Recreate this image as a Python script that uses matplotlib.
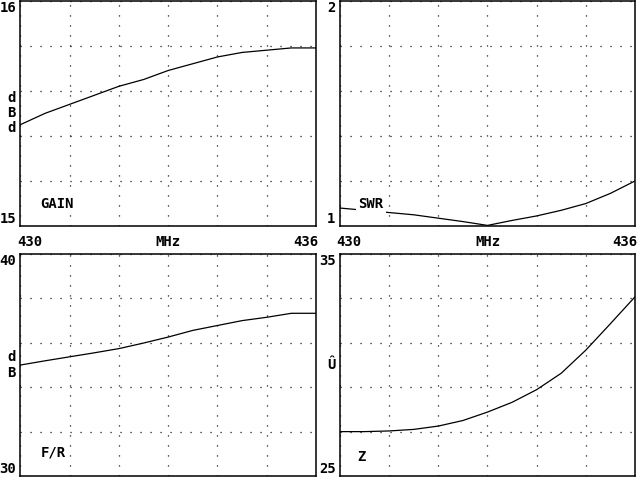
import matplotlib
matplotlib.use('Agg')
import matplotlib.pyplot as plt

plt.rcParams['lines.scale_dashes'] = False
plt.rcParams['font.family'] = ['DejaVu Sans Mono']
plt.rcParams['font.weight'] = 'bold'
plt.rcParams['font.size'] = 10

# frequency in MHz
freq = [430, 430.5, 431, 431.5, 432, 432.5, 433, 433.5, 434, 434.5, 435, 435.5, 436]

gain = [15.45, 15.50, 15.54, 15.58, 15.62, 15.65, 15.69, 15.72, 15.75, 15.77, 15.78, 15.79, 15.79]
swr = [1.08, 1.07, 1.06, 1.05, 1.035, 1.02, 1.003, 1.025, 1.045, 1.07, 1.10, 1.145, 1.20]
fr = [35.0, 35.19, 35.37, 35.55, 35.74, 35.99, 36.26, 36.56, 36.78, 37.0, 37.15, 37.33, 37.33]
z = [27.0, 27.0, 27.03, 27.1, 27.25, 27.5, 27.88, 28.32, 28.89, 29.63, 30.67, 31.86, 33.07]

panels = [
    # name, data, ymin, ymax, unit, label pos, rect, show x labels
    ('GAIN', gain, 15, 16, 'd\nB\nd', (0.124, 0.098), [0.032, 0.529, 0.4617, 0.4698], True),
    ('SWR', swr, 1, 2, '', (0.105, 0.098), [0.53125, 0.529, 0.4609, 0.4698], True),
    ('F/R', fr, 30, 40, 'd\nB', (0.11, 0.108), [0.032, 0.0083, 0.4617, 0.4625], False),
    ('Z', z, 25, 35, 'Û', (0.071, 0.086), [0.53125, 0.0083, 0.4609, 0.4625], False),
]

fig = plt.figure(figsize=(6.4, 4.8), dpi=100)

for name, vals, ymin, ymax, unit, lpos, rect, xlab in panels:
    ax = fig.add_axes(rect)
    ax.plot(freq, vals, color='black', lw=0.9)
    ax.set_xlim(430, 436)
    ax.set_ylim(ymin, ymax)
    ax.set_xticks(range(430, 437))
    step = (ymax - ymin) / 5
    ax.set_yticks([ymin + i * step for i in range(6)])
    ax.tick_params(length=0, labelbottom=False, labelleft=False)
    ax.grid(True, color='black', lw=0.9, linestyle=(0, (0.8, 6.4)))
    for s in ax.spines.values():
        s.set_linewidth(1.1)

    ax.text(-0.015, 1.0, f'{ymax:g}', transform=ax.transAxes, ha='right', va='top')
    ax.text(-0.015, 0.0, f'{ymin:g}', transform=ax.transAxes, ha='right', va='bottom')
    if unit:
        ax.text(-0.03, 0.5, unit, transform=ax.transAxes, ha='center', va='center',
                linespacing=1.1)
    if xlab:
        ax.text(-0.012, -0.04, '430', transform=ax.transAxes, ha='left', va='top')
        ax.text(0.5, -0.04, 'MHz', transform=ax.transAxes, ha='center', va='top')
        ax.text(1.007, -0.04, '436', transform=ax.transAxes, ha='right', va='top')
    ax.text(lpos[0], lpos[1], name, transform=ax.transAxes, ha='center', va='center',
            bbox=dict(facecolor='white', edgecolor='none', pad=1.5), zorder=5)

fig.savefig('out.png', dpi=100)
